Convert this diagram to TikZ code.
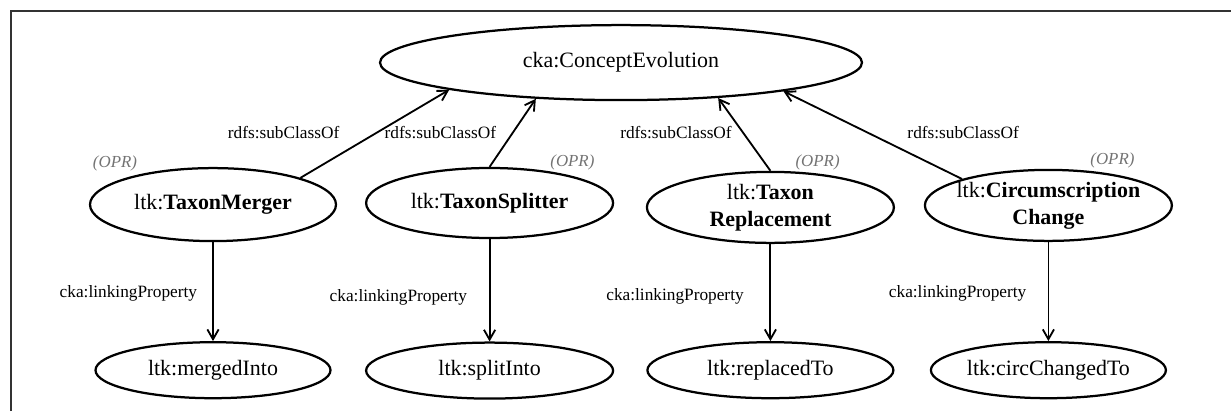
\documentclass[tikz,border=0pt]{standalone}
\usepackage{fontspec}
\setmainfont{Liberation Serif}
\usetikzlibrary{shapes.geometric, arrows.meta}
\tikzset{cls/.style={ellipse, draw, line width=1.6pt, inner sep=0pt, minimum width=6.175cm, minimum height=1.8cm, align=center, font=\fontsize{15.6}{19.2}\selectfont}}
\tikzset{lbl/.style={font=\fontsize{12.3}{14}\selectfont}}
\tikzset{opr/.style={text=black!55, font=\fontsize{12}{14}\selectfont\itshape}}
\tikzset{rel/.style={line width=1.3pt, -{Straight Barb[length=7pt,width=8pt]}}}

\begin{document}
\begin{tikzpicture}
\useasboundingbox (0,0) rectangle (30.775,10.275);
\draw[line width=0.8pt, black!80] (0.275,0) -- (0.275,10) -- (30.775,10);

\begin{scope}[every node/.style={cls}]
\node[minimum width=12.05cm, minimum height=1.875cm] (evo) at (15.525,8.71) {cka:ConceptEvolution};
\node[minimum width=6.15cm, minimum height=1.825cm] (merger) at (5.325,5.16) {ltk:\textbf{TaxonMerger}};
\node[minimum height=1.75cm] (splitter) at (12.24,5.2) {ltk:\textbf{TaxonSplitter}};
\node[minimum height=1.775cm] (replace) at (19.26,5.09) {ltk:\textbf{Taxon}\\\textbf{Replacement}};
\node[minimum height=1.775cm] (circ) at (26.21,5.14) {\makebox[4cm]{ltk:\textbf{Circumscription}}\\\textbf{Change}};
\end{scope}

\begin{scope}[every node/.style={cls, minimum height=1.4cm}]
\node[minimum width=5.875cm] (merged) at (5.325,1.02) {ltk:mergedInto};
\node (split) at (12.24,1.01) {ltk:splitInto};
\node[minimum width=6.15cm] (replaced) at (19.26,1.02) {ltk:replacedTo};
\node[minimum width=5.875cm] (changed) at (26.21,1.02) {ltk:circChangedTo};
\end{scope}

% subclass links
\draw[rel] (merger.17) -- (evo.189);
\draw[rel] (splitter.north) -- (evo.203);
\draw[rel] (replace.north) -- (evo.340);
\draw[rel] (circ.163) -- (evo.350);

\node[lbl] (subA) at (7.09,6.95) {rdfs:subClassOf};
\node[lbl] (subB) at (11.01,6.95) {rdfs:subClassOf};
\node[lbl] (subC) at (16.9,6.95) {rdfs:subClassOf};
\node[lbl] (subD) at (24.08,6.95) {rdfs:subClassOf};

\node[opr] (oprA) at (2.875,6.2) {(OPR)};
\node[opr] (oprB) at (14.31,6.225) {(OPR)};
\node[opr] (oprC) at (20.44,6.225) {(OPR)};
\node[opr] (oprD) at (27.81,6.275) {(OPR)};

% linking properties
\draw[rel] (merger) -- (merged);
\draw[rel] (splitter) -- (split);
\draw[rel] (replace) -- (replaced);
\draw[rel] (circ) -- (changed);

\node[lbl] (linkA) at (3.21,2.95) {cka:linkingProperty};
\node[lbl] (linkB) at (9.96,2.85) {cka:linkingProperty};
\node[lbl] (linkC) at (16.875,2.875) {cka:linkingProperty};
\node[lbl] (linkD) at (23.94,2.95) {cka:linkingProperty};
\end{tikzpicture}
\end{document}
